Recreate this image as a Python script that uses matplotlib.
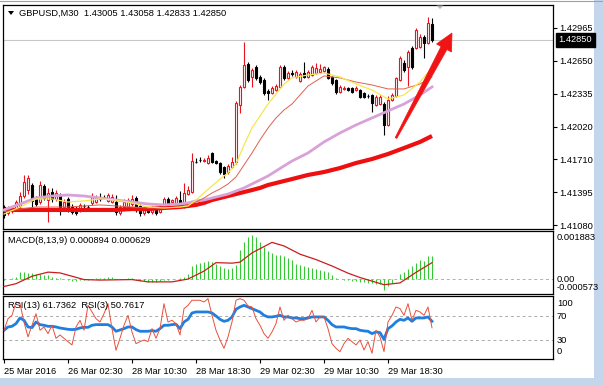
import numpy as np
import matplotlib
matplotlib.use('Agg')
import matplotlib.pyplot as plt
from matplotlib.patches import Polygon, Rectangle
from matplotlib.lines import Line2D

plt.rcParams['font.family'] = ['Liberation Sans', 'DejaVu Sans']
FS = 6.7

# ---------------- data ----------------
opens = [1.41256, 1.41199, 1.41218, 1.41247, 1.41266, 1.41361, 1.41418, 1.41466, 1.41333, 1.41304,
         1.41457, 1.41323, 1.41399, 1.41333, 1.41361, 1.41256, 1.41333, 1.41256, 1.41247, 1.41228,
         1.41266, 1.41256, 1.41295, 1.41304, 1.41352, 1.41352, 1.41314, 1.41304, 1.41304, 1.41199,
         1.41256, 1.41256, 1.41285, 1.41342, 1.41266, 1.41199, 1.41228, 1.41209, 1.41228, 1.41209,
         1.41247, 1.41333, 1.41304, 1.41295, 1.41323, 1.41256, 1.41380, 1.41399, 1.41690, 1.41705,
         1.41695, 1.41676, 1.41772, 1.41695, 1.41676, 1.41638, 1.41590, 1.41638, 1.41686, 1.42230,
         1.42402, 1.42621, 1.42497, 1.42593, 1.42497, 1.42469, 1.42363, 1.42344, 1.42373, 1.42402,
         1.42593, 1.42488, 1.42535, 1.42497, 1.42459, 1.42535, 1.42497, 1.42516, 1.42535, 1.42545,
         1.42554, 1.42574, 1.42497, 1.42469, 1.42354, 1.42387, 1.42392, 1.42392, 1.42373, 1.42373,
         1.42344, 1.42316, 1.42325, 1.42230, 1.42239, 1.42239, 1.42039, 1.42278, 1.42316, 1.42469,
         1.42631, 1.42593, 1.42774, 1.42774, 1.42784, 1.42879, 1.42822, 1.43005]
highs = [1.41276, 1.41266, 1.41266, 1.41323, 1.41399, 1.41562, 1.41562, 1.41485, 1.41361, 1.41504,
         1.41476, 1.41438, 1.41438, 1.41418, 1.41390, 1.41333, 1.41352, 1.41285, 1.41266, 1.41295,
         1.41285, 1.41276, 1.41390, 1.41371, 1.41390, 1.41371, 1.41390, 1.41380, 1.41371, 1.41276,
         1.41333, 1.41342, 1.41371, 1.41361, 1.41285, 1.41256, 1.41247, 1.41266, 1.41247, 1.41276,
         1.41352, 1.41352, 1.41333, 1.41361, 1.41409, 1.41485, 1.41457, 1.41772, 1.41724, 1.41733,
         1.41724, 1.41752, 1.41781, 1.41705, 1.41686, 1.41648, 1.41667, 1.41733, 1.42268, 1.42421,
         1.42831, 1.42640, 1.42583, 1.42612, 1.42516, 1.42488, 1.42383, 1.42411, 1.42430, 1.42612,
         1.42612, 1.42554, 1.42564, 1.42564, 1.42545, 1.42640, 1.42564, 1.42612, 1.42631, 1.42621,
         1.42602, 1.42593, 1.42507, 1.42478, 1.42421, 1.42411, 1.42402, 1.42402, 1.42411, 1.42383,
         1.42354, 1.42335, 1.42335, 1.42325, 1.42325, 1.42258, 1.42316, 1.42344, 1.42497, 1.42698,
         1.42660, 1.42755, 1.42793, 1.42965, 1.42908, 1.42898, 1.43070, 1.43058]
lows = [1.41151, 1.41180, 1.41199, 1.41228, 1.41247, 1.41342, 1.41380, 1.41218, 1.41266, 1.41285,
        1.41323, 1.41113, 1.41304, 1.41314, 1.41180, 1.41237, 1.41209, 1.41189, 1.41180, 1.41209,
        1.41247, 1.41237, 1.41276, 1.41295, 1.41314, 1.41333, 1.41304, 1.41295, 1.41180, 1.41180,
        1.41237, 1.41237, 1.41266, 1.41209, 1.41170, 1.41180, 1.41199, 1.41189, 1.41180, 1.41199,
        1.41237, 1.41276, 1.41295, 1.41285, 1.41256, 1.41247, 1.41371, 1.41390, 1.41676, 1.41686,
        1.41686, 1.41667, 1.41676, 1.41667, 1.41571, 1.41533, 1.41571, 1.41628, 1.41667, 1.42153,
        1.42392, 1.42449, 1.42402, 1.42469, 1.42430, 1.42325, 1.42278, 1.42335, 1.42363, 1.42392,
        1.42469, 1.42478, 1.42507, 1.42488, 1.42449, 1.42488, 1.42488, 1.42507, 1.42526, 1.42540,
        1.42545, 1.42478, 1.42421, 1.42335, 1.42344, 1.42373, 1.42363, 1.42344, 1.42363, 1.42297,
        1.42297, 1.42297, 1.42163, 1.42220, 1.42230, 1.41943, 1.42029, 1.42268, 1.42306, 1.42459,
        1.42545, 1.42411, 1.42574, 1.42765, 1.42774, 1.42679, 1.42812, 1.42833]
closes = [1.41180, 1.41247, 1.41247, 1.41304, 1.41361, 1.41495, 1.41533, 1.41314, 1.41285, 1.41466,
          1.41342, 1.41390, 1.41333, 1.41390, 1.41256, 1.41304, 1.41228, 1.41209, 1.41199, 1.41276,
          1.41261, 1.41252, 1.41352, 1.41342, 1.41333, 1.41347, 1.41371, 1.41352, 1.41209, 1.41256,
          1.41304, 1.41323, 1.41333, 1.41228, 1.41199, 1.41237, 1.41209, 1.41247, 1.41199, 1.41256,
          1.41333, 1.41295, 1.41323, 1.41342, 1.41266, 1.41390, 1.41418, 1.41695, 1.41688, 1.41700,
          1.41700, 1.41724, 1.41686, 1.41676, 1.41590, 1.41571, 1.41648, 1.41686, 1.42249, 1.42402,
          1.42612, 1.42469, 1.42564, 1.42488, 1.42449, 1.42344, 1.42344, 1.42392, 1.42411, 1.42593,
          1.42488, 1.42535, 1.42530, 1.42545, 1.42526, 1.42497, 1.42545, 1.42593, 1.42583, 1.42574,
          1.42593, 1.42488, 1.42440, 1.42354, 1.42402, 1.42392, 1.42373, 1.42354, 1.42392, 1.42306,
          1.42306, 1.42311, 1.42249, 1.42306, 1.42306, 1.42039, 1.42278, 1.42325, 1.42488, 1.42679,
          1.42564, 1.42736, 1.42593, 1.42946, 1.42879, 1.42822, 1.43013, 1.42850]

ma_idx = [0, 4, 8, 12, 16, 20, 24, 28, 32, 36, 40, 44,
          46, 48, 50, 52, 54, 56, 58, 60, 62, 64, 66, 68, 70, 72,
          76, 80, 84, 88, 92, 96, 100, 104, 107]
ma_yellow = [1.41189, 1.41256, 1.41333, 1.41333, 1.41304, 1.41314, 1.41333, 1.41323, 1.41295, 1.41256, 1.41247, 1.41256,
             1.41266, 1.41323, 1.41390, 1.41457, 1.41523, 1.41581, 1.41667, 1.41848, 1.42010, 1.42125, 1.42239, 1.42335, 1.42430, 1.42488,
             1.42516, 1.42535, 1.42497, 1.42430, 1.42373, 1.42287, 1.42325, 1.42449, 1.42583]
ma_thin_red = [1.41209, 1.41237, 1.41256, 1.41256, 1.41256, 1.41266, 1.41276, 1.41266, 1.41256, 1.41247, 1.41247, 1.41256,
               1.41276, 1.41304, 1.41342, 1.41390, 1.41428, 1.41476, 1.41543, 1.41657, 1.41772, 1.41896, 1.42010, 1.42106, 1.42182, 1.42239,
               1.42411, 1.42507, 1.42488, 1.42449, 1.42421, 1.42383, 1.42383, 1.42430, 1.42497]
ma_violet = [1.41228, 1.41285, 1.41342, 1.41361, 1.41371, 1.41361, 1.41342, 1.41323, 1.41304, 1.41285, 1.41276, 1.41285,
             1.41295, 1.41314, 1.41323, 1.41342, 1.41361, 1.41380, 1.41409, 1.41438, 1.41476, 1.41514, 1.41552, 1.41600, 1.41648, 1.41695,
             1.41772, 1.41877, 1.41963, 1.42039, 1.42106, 1.42173, 1.42239, 1.42325, 1.42402]
ma_thick_red = [1.41228, 1.41228, 1.41228, 1.41228, 1.41228, 1.41228, 1.41228, 1.41228, 1.41237, 1.41237, 1.41247, 1.41256,
                1.41266, 1.41276, 1.41295, 1.41323, 1.41342, 1.41361, 1.41380, 1.41399, 1.41418, 1.41438, 1.41466, 1.41485, 1.41504, 1.41523,
                1.41562, 1.41590, 1.41628, 1.41676, 1.41714, 1.41762, 1.41819, 1.41877, 1.41934]

macd_main = [-0.00004, -0.00002, 0.00002, 0.00008, 0.00027, 0.00027, 0.00021, 0.00024, 0.00020, 0.00017,
             0.00013, 0.00013, 0.00008, 0.00004, 0.00002, -0.00002, -0.00006, -0.00008, -0.00008, -0.00006,
             -0.00004, -0.00004, -0.00001, 0.00002, 0.00004, 0.00004, 0.00006, 0.00006, 0.0, -0.00002,
             0.0, 0.00002, 0.00002, -0.00004, -0.00008, -0.00010, -0.00012, -0.00012, -0.00012, -0.00010,
             -0.00006, -0.00004, -0.00002, 0.0, 0.00002, 0.00006, 0.00018, 0.00050, 0.00059, 0.00063,
             0.00065, 0.00069, 0.00065, 0.00057, 0.00050, 0.00044, 0.00039, 0.00042, 0.00055, 0.00111,
             0.00145, 0.00162, 0.00171, 0.00162, 0.00143, 0.00123, 0.00109, 0.00099, 0.00093, 0.00092,
             0.00088, 0.00082, 0.00075, 0.00059, 0.00053, 0.00050, 0.00046, 0.00042, 0.00040, 0.00036,
             0.00032, 0.00028, 0.00016, 0.00004, 0.0, -0.00004, -0.00006, -0.00008, -0.00010, -0.00012,
             -0.00014, -0.00016, -0.00018, -0.00020, -0.00022, -0.00044, -0.00030, -0.00018, 0.0, 0.00018,
             0.00028, 0.00040, 0.00048, 0.00061, 0.00073, 0.00071, 0.00087, 0.000894]
sig_idx = [0, 3, 7, 11, 14, 20, 24, 32, 36, 42, 46, 50, 53, 57, 59, 62, 67, 70, 74, 78, 82, 86, 89, 95, 99, 103, 107]
macd_signal = [-0.00030, -0.00019, 0.00010, 0.00026, 0.00023, -0.00003, -0.00005, -0.00003, -0.00012, -0.00012,
               -0.00001, 0.00030, 0.00063, 0.00061, 0.00065, 0.00101, 0.00142, 0.00128, 0.00096, 0.00075,
               0.00050, 0.00022, 0.00005, -0.00023, -0.00016, 0.00025, 0.000629]

rsi13 = [46.7, 52.2, 53.3, 57.8, 67.2, 63.3, 52.2, 51.1, 60.5, 56.1,
         55.0, 53.3, 53.3, 52.2, 50.5, 49.4, 48.3, 47.8, 48.3, 50.5,
         51.6, 51.6, 55.0, 56.1, 56.1, 56.1, 56.1, 52.2, 45.0, 47.2,
         49.4, 52.2, 52.2, 47.8, 45.0, 45.0, 45.0, 46.1, 45.0, 49.4,
         55.0, 55.0, 56.1, 56.7, 49.4, 60.5, 64.9, 75.5, 77.2, 77.2,
         77.2, 77.2, 75.5, 70.5, 64.9, 61.6, 63.3, 68.9, 81.6, 85.5,
         88.3, 85.5, 82.7, 79.9, 77.2, 71.6, 68.9, 68.9, 70.0, 71.6,
         68.9, 68.9, 67.2, 67.2, 66.1, 66.1, 67.2, 68.9, 68.9, 68.9,
         68.9, 63.3, 56.1, 52.2, 52.2, 52.2, 50.5, 49.4, 49.4, 46.7,
         45.6, 45.0, 41.1, 43.9, 42.8, 31.6, 49.4, 53.9, 60.5, 64.9,
         63.3, 67.2, 61.6, 67.2, 67.2, 67.2, 68.9, 61.7]
rsi3 = [46.7, 66.0, 71.6, 93.8, 91.0, 60.5, 35.5, 55.0, 74.4, 46.7,
        52.2, 41.1, 55.0, 33.3, 38.9, 33.3, 27.7, 22.2, 52.2, 63.3,
        46.7, 88.3, 77.2, 66.0, 60.5, 74.4, 91.0, 49.4, 13.3, 33.3,
        55.0, 71.6, 43.9, 24.4, 27.7, 30.5, 27.7, 49.4, 33.3, 49.4,
        91.0, 60.5, 63.3, 57.8, 38.9, 82.7, 88.3, 96.7, 96.7, 96.7,
        93.8, 99.4, 71.6, 46.7, 30.5, 16.6, 35.5, 60.5, 96.7, 99.4,
        96.7, 87.2, 85.5, 66.0, 55.0, 41.1, 33.3, 43.9, 57.8, 85.5,
        63.3, 71.6, 66.0, 60.5, 63.3, 63.3, 66.0, 79.9, 60.5, 68.9,
        68.9, 49.4, 24.4, 16.6, 11.0, 24.4, 33.3, 27.7, 22.2, 30.5,
        13.8, 27.7, 8.3, 46.7, 35.5, 11.0, 60.5, 71.6, 85.5, 82.7,
        71.6, 91.0, 63.3, 79.9, 77.2, 71.6, 85.5, 50.8]

price_ticks = [1.42965, 1.42650, 1.42335, 1.42020, 1.41710, 1.41395, 1.41080]
bid_price = 1.42850
time_tick_idx = [0, 16, 32, 48, 64, 80, 96]
time_labels = ['25 Mar 2016', '26 Mar 02:30', '28 Mar 10:30', '28 Mar 18:30',
               '29 Mar 02:30', '29 Mar 10:30', '29 Mar 18:30']
header = 'GBPUSD,M30  1.43005 1.43058 1.42833 1.42850'
macd_title = 'MACD(8,13,9) 0.000894 0.000629'
rsi_title = 'RSI(13) 61.7362  RSI(3) 50.7617'

# ---------------- layout ----------------
W, H = 603, 386
fig = plt.figure(figsize=(W / 100, H / 100), dpi=100)
fig.patch.set_facecolor('white')


def fx(px):
    return px / W


def fy(py):
    return 1 - py / H


def rect(left, top, right, bottom):
    return [fx(left), fy(bottom), (right - left) / W, (bottom - top) / H]


ax = fig.add_axes(rect(3, 5, 553, 228.5))
axm = fig.add_axes(rect(3, 230.5, 553, 293.5))
axr = fig.add_axes(rect(3, 296, 553, 359))

XMIN, XMAX = -0.25, 137.25
for a in (ax, axm, axr):
    a.set_xlim(XMIN, XMAX)
    for s in a.spines.values():
        s.set_color('black')
        s.set_linewidth(0.9)
    a.set_facecolor('white')

RED = '#E8141E'
o = np.array(opens); h = np.array(highs); l = np.array(lows); c = np.array(closes)
x = np.arange(len(o))
up = c >= o

ax.axhline(bid_price, color='#C8C8C8', lw=0.8, zorder=1)
ax.vlines(x[up], l[up], h[up], color=RED, lw=0.8, zorder=3)
ax.vlines(x[~up], l[~up], h[~up], color='black', lw=0.8, zorder=3)
body_lo = np.minimum(o, c)
body_h = np.abs(c - o)
ax.bar(x[up], body_h[up], bottom=body_lo[up], width=0.45, facecolor='white',
       edgecolor=RED, linewidth=0.8, zorder=4)
ax.bar(x[~up], body_h[~up], bottom=body_lo[~up], width=0.45, facecolor='black',
       edgecolor='black', linewidth=0.8, zorder=4)

ax.plot(ma_idx, ma_thick_red, color='#EE1010', lw=3.0, zorder=5, solid_capstyle='butt')
ax.plot(ma_idx, ma_violet, color='#D8A2D8', lw=2.0, zorder=5)
ax.plot(ma_idx, ma_thin_red, color='#E06050', lw=0.7, zorder=6)
ax.plot(ma_idx, ma_yellow, color='#F5E84A', lw=0.9, zorder=6)

ax.set_ylim(1.41051, 1.43184)
ax.yaxis.tick_right()
ax.set_yticks(price_ticks)
ax.set_yticklabels(['%.5f' % v for v in price_ticks])
ax.tick_params(axis='y', length=3, width=0.8, pad=1.5, labelsize=FS, colors='black')
ax.tick_params(axis='x', bottom=False, labelbottom=False)

from matplotlib.transforms import blended_transform_factory
tr = blended_transform_factory(ax.transAxes, ax.transData)
ax.text(1.0 + 5.5 / 550, bid_price, '%.5f' % bid_price, transform=tr, color='white',
        fontsize=FS, va='center', ha='left', zorder=10, clip_on=False,
        bbox=dict(boxstyle='square,pad=0.28', facecolor='black', edgecolor='black'))

# MACD panel
axm.axhline(0, color='#BBAAAA', lw=0.7, ls=(0, (3, 3)), zorder=1)
axm.vlines(x, 0, macd_main, color='#35C835', lw=0.8, zorder=2)
axm.plot(sig_idx, macd_signal, color='#C81E1E', lw=0.9, zorder=3)
axm.set_ylim(-0.000573, 0.001883)
axm.set_xticks([]); axm.set_yticks([])

# RSI panel
axr.axhline(70, color='#AAAAAA', lw=0.7, ls=(0, (3, 3)), zorder=1)
axr.axhline(30, color='#AAAAAA', lw=0.7, ls=(0, (3, 3)), zorder=1)
axr.plot(x, rsi13, color='#1E7FE0', lw=2.0, zorder=2)
axr.plot(x, rsi3, color='#E8503C', lw=0.7, zorder=3)
axr.set_ylim(-1.2, 103.8)
axr.set_yticks([])
axr.set_xticks(time_tick_idx)
axr.set_xticklabels(time_labels, ha='left')
axr.tick_params(axis='x', length=3, width=0.8, pad=2.5, labelsize=FS, colors='black')

# texts
fig.text(fx(19), fy(13.5), header, fontsize=FS, va='center', ha='left')
fig.text(fx(8), fy(240.5), macd_title, fontsize=FS, va='center', ha='left')
fig.text(fx(8), fy(305), rsi_title, fontsize=FS, va='center', ha='left')
for txt, py in [('0.001883', 238), ('0.00', 279.5), ('-0.000573', 287.5),
                ('100', 303), ('70', 316.5), ('30', 340.5), ('0', 352)]:
    fig.text(fx(557), fy(py), txt, fontsize=FS, va='center', ha='left')


def P(pts):
    return [(fx(px), fy(py)) for px, py in pts]


fig.add_artist(Polygon(P([(8, 11), (14, 11), (11, 15)]), closed=True,
                       facecolor='black', edgecolor='none', transform=fig.transFigure, zorder=20))
fig.add_artist(Polygon(P([(436.5, 5.5), (443.5, 5.5), (440, 9)]), closed=True,
                       facecolor='#B4B4B4', edgecolor='none', transform=fig.transFigure, zorder=20))

# red arrow annotation
tip = np.array([452.0, 33.0]); tail = np.array([396.0, 138.0])
d = (tip - tail) / np.linalg.norm(tip - tail)
n = np.array([-d[1], d[0]])
hl, hw, sw0, sw1 = 17.0, 8.5, 0.9, 3.3
base = tip - d * hl
pts = [tail + n * sw0, base + n * sw1, base + n * hw, tip, base - n * hw, base - n * sw1, tail - n * sw0]
fig.add_artist(Polygon(P([tuple(p) for p in pts]), closed=True, facecolor='#F01414',
                       edgecolor='#F01414', lw=0.5, transform=fig.transFigure, zorder=20))

# window frame decorations
fig.add_artist(Rectangle((fx(594), 0), 9 / W, 1, transform=fig.transFigure,
                         facecolor='#C4D6EC', edgecolor='none', zorder=0))
fig.add_artist(Rectangle((0, 0), 1, 8 / H, transform=fig.transFigure,
                         facecolor='#C4D6EC', edgecolor='none', zorder=0))
fig.add_artist(Line2D([0, 1], [fy(0.5), fy(0.5)], transform=fig.transFigure, color='#A0A0A0', lw=0.8))

fig.savefig('out.png', dpi=100, facecolor='white')
